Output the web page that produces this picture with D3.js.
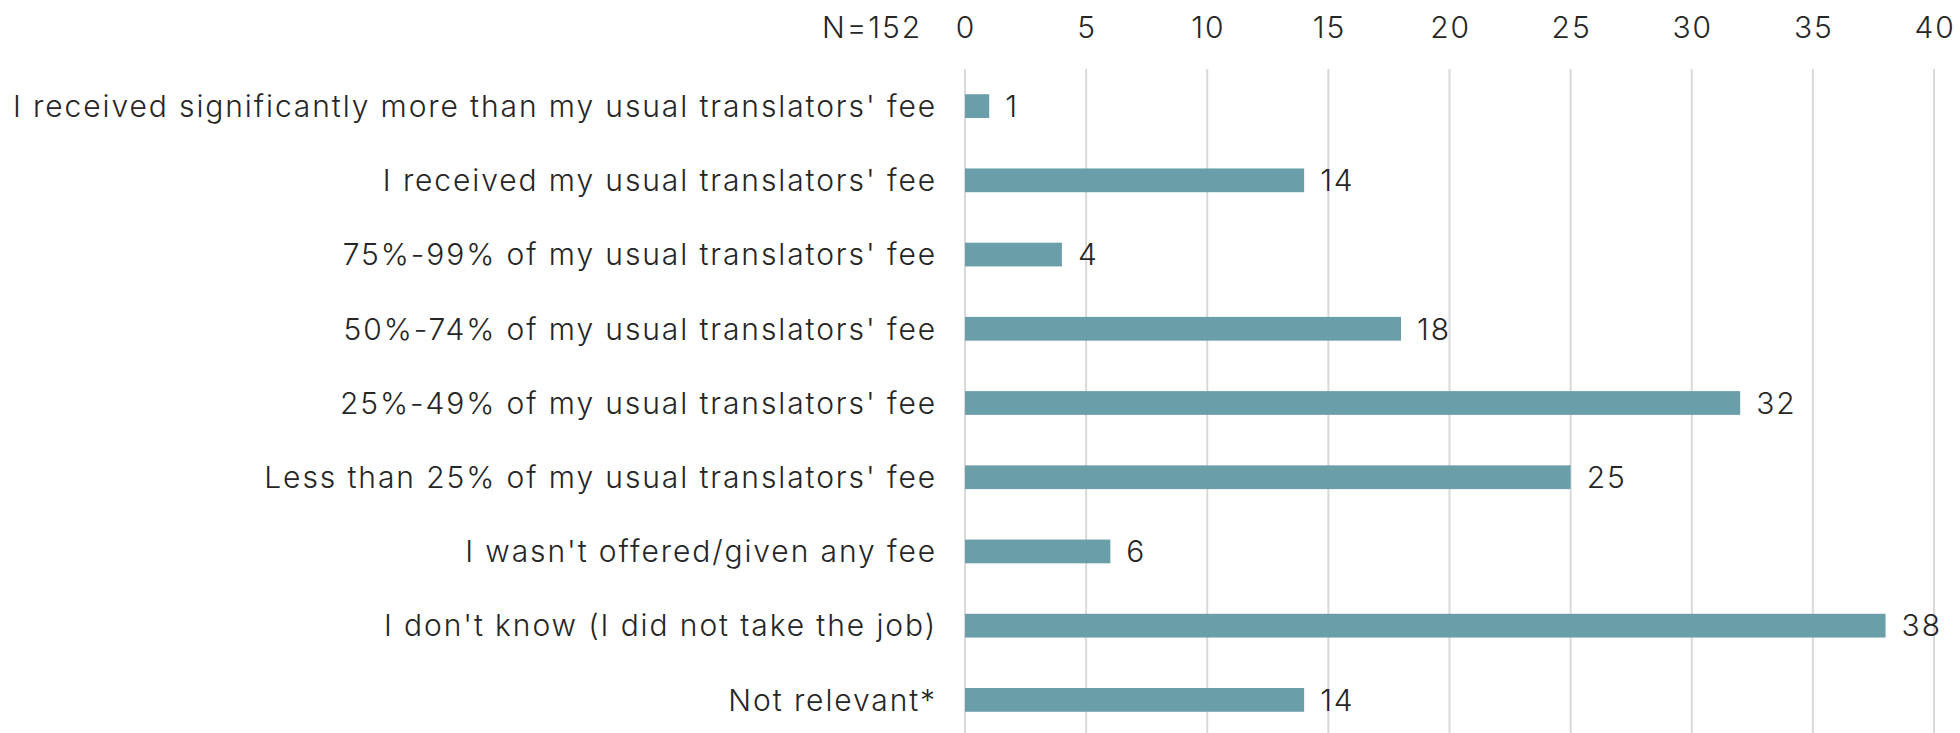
<!DOCTYPE html>
<html lang="en">
<head>
<meta charset="UTF-8">
<title>Translators' fee</title>
<script src="https://d3js.org/d3.v7.min.js"></script>
<style>
  body { margin: 0; background: #fff; }
  svg { display: block; }
  text { font-family: Inter, 'Open Sans', sans-serif; font-weight: 300; fill: #262626; letter-spacing: 1.9px; }
</style>
</head>
<body>
<svg id="chart" width="1960" height="733"></svg>
<script>
  // data
  const categories = [
    "I received significantly more than my usual translators' fee",
    "I received my usual translators' fee",
    "75%-99% of my usual translators' fee",
    "50%-74% of my usual translators' fee",
    "25%-49% of my usual translators' fee",
    "Less than 25% of my usual translators' fee",
    "I wasn't offered/given any fee",
    "I don't know (I did not take the job)",
    "Not relevant*"
  ];
  const counts = [1, 14, 4, 18, 32, 25, 6, 38, 14];
  const ticks = [0, 5, 10, 15, 20, 25, 30, 35, 40];
  const sampleLabel = "N=152";

  const svg = d3.select("#chart");
  const fontSize = 30;

  const x = d3.scaleLinear().domain([0, 40]).range([965, 1934]);
  const y = d3.scaleBand().domain(categories).range([69, 737])
    .paddingInner(0.68).paddingOuter(0.34);

  // gridlines
  svg.append("g")
    .selectAll("line")
    .data(ticks)
    .join("line")
    .attr("x1", d => x(d)).attr("x2", d => x(d))
    .attr("y1", 69).attr("y2", 733)
    .attr("stroke", "#d9d9d9")
    .attr("stroke-width", 2);

  // top tick labels
  svg.append("g")
    .selectAll("text")
    .data(ticks)
    .join("text")
    .attr("x", d => x(d) + 1)
    .attr("y", 38)
    .attr("text-anchor", "middle")
    .style("font-size", fontSize + "px")
    .text(d => d);

  svg.append("text")
    .attr("x", 922)
    .attr("y", 38)
    .attr("text-anchor", "end")
    .style("font-size", fontSize + "px")
    .text(sampleLabel);

  // bars
  svg.append("g")
    .selectAll("rect")
    .data(categories)
    .join("rect")
    .attr("x", x(0))
    .attr("y", d => y(d))
    .attr("height", y.bandwidth())
    .attr("width", (d, i) => x(counts[i]) - x(0))
    .attr("fill", "#6a9ea9");

  // value labels
  svg.append("g")
    .selectAll("text")
    .data(categories)
    .join("text")
    .attr("x", (d, i) => x(counts[i]) + 16)
    .attr("y", d => y(d) + y.bandwidth() / 2)
    .attr("dy", "0.36em")
    .style("font-size", fontSize + "px")
    .text((d, i) => counts[i]);

  // category labels
  svg.append("g")
    .selectAll("text")
    .data(categories)
    .join("text")
    .attr("x", 937)
    .attr("y", d => y(d) + y.bandwidth() / 2)
    .attr("dy", "0.36em")
    .attr("text-anchor", "end")
    .style("font-size", fontSize + "px")
    .text(d => d);
</script>
</body>
</html>
